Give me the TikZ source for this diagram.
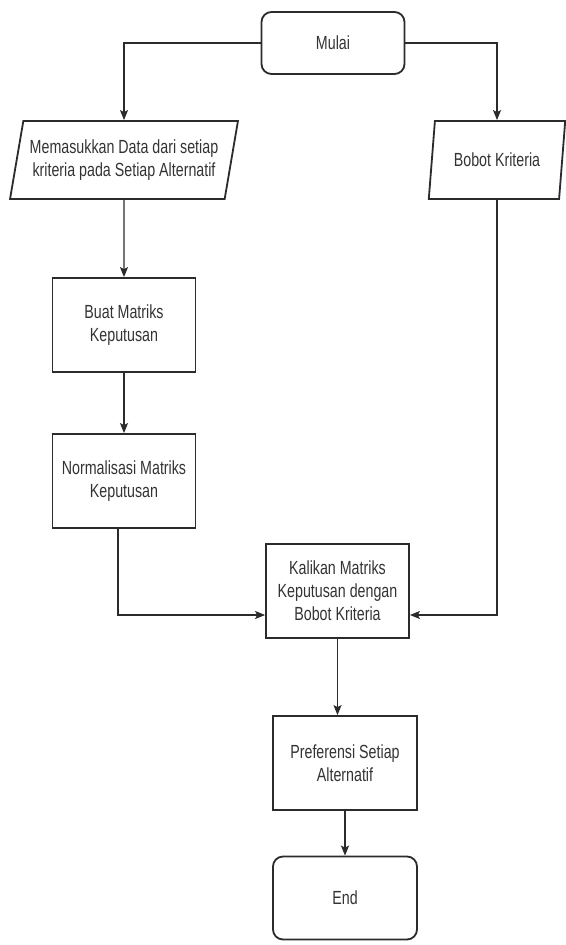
\documentclass[tikz,border=0pt]{standalone}
\usepackage{fontspec}
\setmainfont{Liberation Sans}[FakeStretch=0.75]
\usetikzlibrary{shapes.geometric,arrows.meta}

\definecolor{garis}{HTML}{2B2B2B}
\definecolor{teks}{HTML}{333333}

\tikzset{
  proses/.style={draw=garis, line width=1.8pt, minimum width=143pt, minimum height=94pt,
    align=center, text=teks, inner sep=0pt, font=\fontsize{19pt}{23pt}\selectfont},
  terminal/.style={proses, rounded corners=10pt, minimum height=62pt},
  masukan/.style={proses, trapezium, trapezium left angle=73, trapezium right angle=107,
    trapezium stretches=true, minimum height=78pt},
  alur/.style={draw=garis, line width=1.4pt, -{Stealth[length=10pt,width=8pt,inset=2pt]}},
}

\begin{document}
\begin{tikzpicture}[x=1pt,y=-1pt]

\useasboundingbox (0,0) rectangle (565,945);

\node[terminal] (mulai) at (333,43) {Mulai};

% masukan
\node[masukan, minimum width=228pt] (data) at (124,160) {Memasukkan Data dari setiap\\kriteria pada Setiap Alternatif};
\node[masukan, minimum width=137pt] (bobot) at (497,160) {Bobot Kriteria};

% proses
\node[proses] (matriks) at (124,325) {Buat Matriks\\Keputusan};
\node[proses] (normal) at (124,481) {Normalisasi Matriks\\Keputusan};
\node[proses] (kali) at (337.5,591) {Kalikan Matriks\\Keputusan dengan\\Bobot Kriteria};
\node[proses, minimum width=144pt] (pref) at (345,763) {Preferensi Setiap\\Alternatif};

\node[terminal, minimum width=144pt, minimum height=83pt] (end) at (345,898) {End};

\draw[alur] (mulai.west) -| (data.north);
\draw[alur] (mulai.east) -| (bobot.north);
\draw[alur] (data.south) -- (matriks.north);
\draw[alur] (matriks.south) -- (normal.north);

% masuk ke perkalian
\draw[alur] ([xshift=-6pt]normal.south) |- ([yshift=-24pt]kali.west);
\draw[alur] (bobot.south) |- ([yshift=-24pt]kali.east);

\draw[alur] (kali.south) -- (kali.south |- pref.north);
\draw[alur] (pref.south) -- (end.north);

\end{tikzpicture}
\end{document}
